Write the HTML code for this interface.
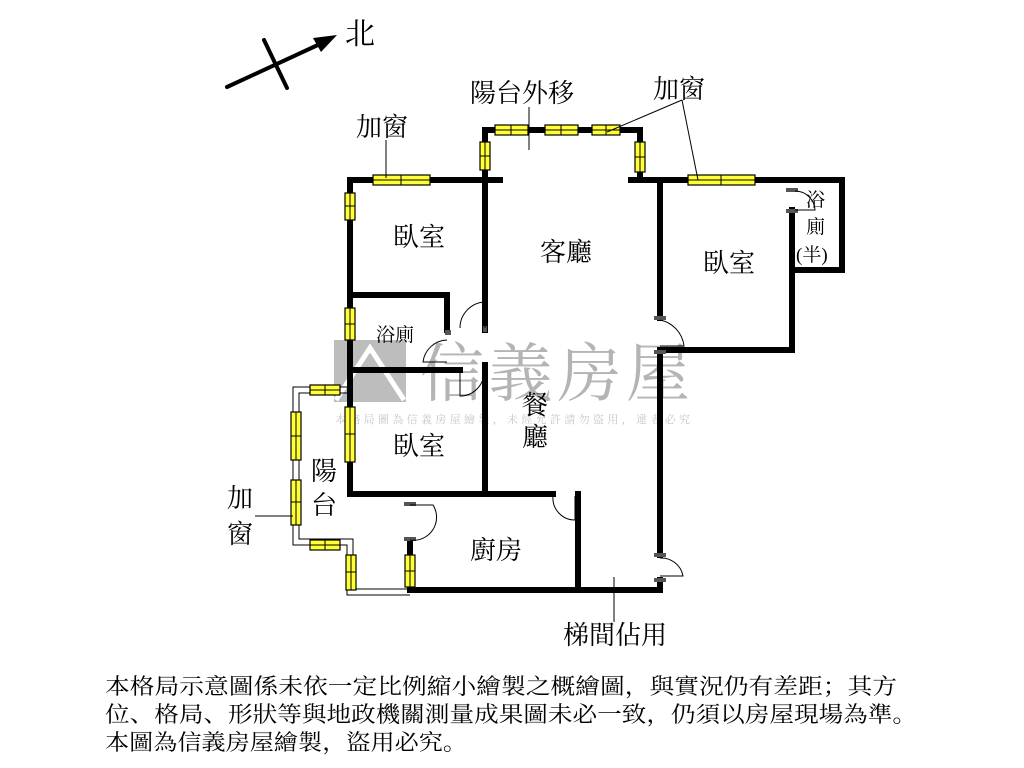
<!DOCTYPE html>
<html><head><meta charset="utf-8"><style>
html,body{margin:0;padding:0;background:#fff;}
svg{display:block;}
text{font-family:"Liberation Serif","Noto Serif CJK SC","Noto Sans CJK TC",serif;fill:#000;}
</style></head><body>
<svg width="1024" height="768" viewBox="0 0 1024 768" xmlns="http://www.w3.org/2000/svg">
<rect width="1024" height="768" fill="#fff"/>
<!-- watermark -->
<g opacity="0.55">
<rect x="334" y="340" width="72" height="62" fill="#888"/>
<path d="M336 400 L370 348 L404 400" stroke="#fff" stroke-width="5" fill="none"/>
<text x="420" y="396" font-family="Liberation Sans,Noto Sans CJK TC,sans-serif" font-size="64" fill="#777" style="fill:#777" textLength="270">信義房屋</text>
<text x="335" y="423" font-family="Liberation Sans,Noto Sans CJK TC,sans-serif" font-size="11" style="fill:#999" textLength="355">本格局圖為信義房屋繪製，未經允許請勿盜用，違者必究</text>
</g>
<!-- balcony thin outline -->
<g fill="none" stroke="#000" stroke-width="1">
<polyline points="350,387 293,387 293,545 347,545 347,595 410,595"/>
<polyline points="350,393 299,393 299,539 353,539 353,589 410,589"/>
</g>
<!-- walls -->
<g stroke="#000" stroke-width="6" fill="none" stroke-linecap="square">
<polyline points="500,180 350,180 350,494 553,494"/>
<polyline points="485,180 485,130 640,130 640,180"/>
<line x1="485" y1="180" x2="485" y2="330"/>
<line x1="631" y1="180" x2="842" y2="180"/>
<polyline points="842,180 842,270 792,270 792,350 660,350"/>
<line x1="792" y1="210" x2="792" y2="270"/>
<line x1="660" y1="180" x2="660" y2="318"/>
<line x1="660" y1="352" x2="660" y2="555"/>
<line x1="660" y1="580" x2="660" y2="590"/>
<polyline points="350,295 447,295 447,330"/>
<line x1="350" y1="370" x2="460" y2="370"/>
<line x1="485" y1="365" x2="485" y2="494"/>
<line x1="578" y1="494" x2="578" y2="590"/>
<line x1="410" y1="540" x2="410" y2="590"/>
<line x1="410" y1="590" x2="660" y2="590"/>
</g>
<!-- door jambs -->
<g fill="#555">
<rect x="404" y="502" width="12" height="4"/><rect x="404" y="537" width="12" height="4"/>
<rect x="654" y="316" width="12" height="4"/><rect x="654" y="350" width="12" height="4"/>
<rect x="654" y="553" width="12" height="4"/><rect x="654" y="578" width="12" height="4"/>
<rect x="786" y="188" width="12" height="4"/><rect x="786" y="209" width="12" height="4"/>
<rect x="445" y="330" width="6" height="5"/><rect x="483" y="326" width="4" height="6"/>
</g>
<!-- door arcs -->
<g fill="none" stroke="#000" stroke-width="1">
<path d="M410 505 L433 505 A23 23 0 0 1 410 540"/>
<path d="M660 320 A30 30 0 0 1 684 346 L660 346"/>
<path d="M660 558 A22 22 0 0 1 683 576 L660 576"/>
<path d="M795 191 A20 20 0 0 1 815 210 L795 210"/>
<path d="M485 328 L485 302 A26 26 0 0 0 460 328"/>
<path d="M447 340 A25 25 0 0 0 423 362 L447 362"/>
<path d="M460 372 L460 396 A24 24 0 0 0 484 372"/>
<path d="M575 496 L575 520 A22 22 0 0 1 553 496"/>
</g>
<!-- windows -->
<g fill="#ffff33" stroke="#000" stroke-width="1.2">
<rect x="373" y="175" width="57" height="10"/>
<rect x="345" y="193" width="10" height="27"/>
<rect x="345" y="308" width="10" height="32"/>
<rect x="345" y="407" width="10" height="55"/>
<rect x="495" y="125" width="33" height="10"/>
<rect x="545" y="125" width="33" height="10"/>
<rect x="592" y="125" width="28" height="10"/>
<rect x="480" y="142" width="10" height="28"/>
<rect x="635" y="142" width="10" height="30"/>
<rect x="688" y="175" width="67" height="10"/>
<rect x="310" y="385" width="30" height="10"/>
<rect x="291" y="412" width="10" height="48"/>
<rect x="291" y="480" width="10" height="45"/>
<rect x="310" y="540" width="30" height="10"/>
<rect x="346" y="555" width="10" height="35"/>
<rect x="405" y="555" width="10" height="32"/>
</g>
<g stroke="#000" stroke-width="1">
<line x1="401" y1="175" x2="401" y2="185"/><line x1="373" y1="180" x2="430" y2="180"/>
<line x1="511" y1="125" x2="511" y2="135"/><line x1="495" y1="130" x2="528" y2="130"/>
<line x1="561" y1="125" x2="561" y2="135"/><line x1="545" y1="130" x2="578" y2="130"/>
<line x1="606" y1="125" x2="606" y2="135"/><line x1="592" y1="130" x2="620" y2="130"/>
<line x1="721" y1="175" x2="721" y2="185"/><line x1="688" y1="180" x2="755" y2="180"/>
<line x1="350" y1="193" x2="350" y2="220"/><line x1="345" y1="206" x2="355" y2="206"/>
<line x1="350" y1="308" x2="350" y2="340"/><line x1="345" y1="324" x2="355" y2="324"/>
<line x1="350" y1="407" x2="350" y2="462"/><line x1="345" y1="434" x2="355" y2="434"/>
<line x1="485" y1="142" x2="485" y2="170"/><line x1="480" y1="156" x2="490" y2="156"/>
<line x1="640" y1="142" x2="640" y2="172"/><line x1="635" y1="157" x2="645" y2="157"/>
<line x1="296" y1="412" x2="296" y2="460"/><line x1="291" y1="436" x2="301" y2="436"/>
<line x1="296" y1="480" x2="296" y2="525"/><line x1="291" y1="502" x2="301" y2="502"/>
<line x1="325" y1="385" x2="325" y2="395"/><line x1="310" y1="390" x2="340" y2="390"/>
<line x1="325" y1="540" x2="325" y2="550"/><line x1="310" y1="545" x2="340" y2="545"/>
<line x1="351" y1="555" x2="351" y2="590"/><line x1="346" y1="572" x2="356" y2="572"/>
<line x1="410" y1="555" x2="410" y2="587"/><line x1="405" y1="571" x2="415" y2="571"/>
<!-- leader lines -->
<line x1="386" y1="140" x2="386" y2="178"/>
<line x1="529" y1="107" x2="529" y2="150"/>
<line x1="682" y1="100" x2="607" y2="132"/>
<line x1="682" y1="100" x2="698" y2="180"/>
<line x1="255" y1="516" x2="293" y2="516"/>
<line x1="614" y1="577" x2="614" y2="622"/>
</g>
<!-- compass -->
<g stroke="#000" stroke-width="4" stroke-linecap="round">
<line x1="227" y1="87" x2="320" y2="44"/>
<line x1="264" y1="40" x2="287" y2="88"/>
</g>
<polygon points="337,35 313,38 321,52" fill="#000"/>
<text x="345" y="44" font-size="30">北</text>
<!-- labels -->
<g font-size="26">
<text x="393" y="246">臥室</text>
<text x="540" y="261">客廳</text>
<text x="703" y="272">臥室</text>
<text x="393" y="455">臥室</text>
<text x="522" y="414">餐</text>
<text x="522" y="446">廳</text>
<text x="311" y="480">陽</text>
<text x="311" y="514">台</text>
<text x="470" y="559">廚房</text>
<text x="227" y="507">加</text>
<text x="227" y="543">窗</text>
<text x="470" y="102">陽台外移</text>
<text x="356" y="136">加窗</text>
<text x="653" y="98">加窗</text>
<text x="563" y="644">梯間佔用</text>
</g>
<text x="376" y="341" font-size="19">浴廁</text>
<g font-size="19">
<text x="806" y="206">浴</text>
<text x="806" y="233">廁</text>
<text x="796" y="261">(半)</text>
</g>
<g font-size="22">
<text x="105" y="694" textLength="792" lengthAdjust="spacingAndGlyphs">本格局示意圖係未依一定比例縮小繪製之概繪圖，與實況仍有差距；其方</text>
<text x="105" y="722" textLength="812" lengthAdjust="spacingAndGlyphs">位、格局、形狀等與地政機關測量成果圖未必一致，仍須以房屋現場為準。</text>
<text x="105" y="750" textLength="362" lengthAdjust="spacingAndGlyphs">本圖為信義房屋繪製，盜用必究。</text>
</g>
</svg>
</body></html>
